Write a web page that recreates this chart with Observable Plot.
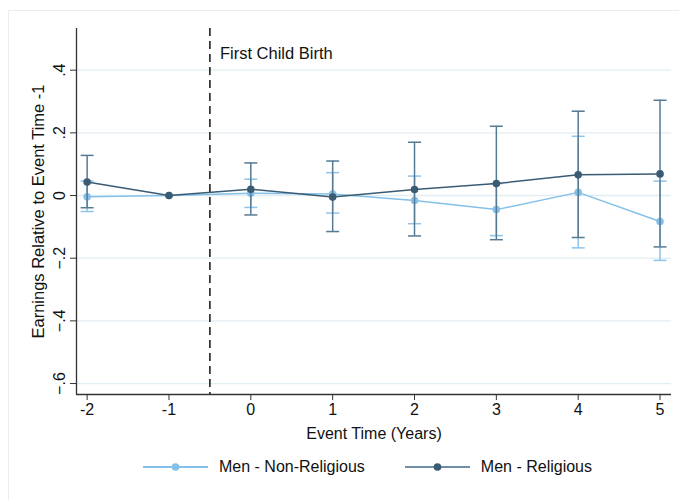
<!DOCTYPE html>
<html>
<head>
<meta charset="utf-8">
<script src="https://cdn.jsdelivr.net/npm/d3@7"></script>
<script src="https://cdn.jsdelivr.net/npm/@observablehq/plot@0.6"></script>
<style>
  body { margin: 0; background: #fff; }
  #wrap { position: relative; width: 679px; height: 500px; overflow: hidden; background: #fff;
          font-family: "Liberation Sans", Arial, Helvetica, sans-serif; }
  #border { position: absolute; left: 8px; top: 10px; width: 720px; height: 540px; border: 1px solid #e7edf0; }
  #chart { position: absolute; left: 0; top: 0; }
  #legend { position: absolute; left: 143px; top: 458px; display: flex; align-items: center; font-size: 16px; color: #111; }
  .item { display: flex; align-items: center; }
  .item svg { display: block; }
</style>
</head>
<body>
<div id="wrap">
  <div id="border"></div>
  <div id="chart"></div>
  <div id="legend"></div>
</div>
<script>
// ---- data ----
const eventTime = [-2, -1, 0, 1, 2, 3, 4, 5];
const nonRelEst = [-0.004, 0, 0.007, 0.005, -0.016, -0.045, 0.010, -0.083];
const nonRelLo  = [-0.051, 0, -0.038, -0.056, -0.090, -0.128, -0.167, -0.207];
const nonRelHi  = [0.046, 0, 0.052, 0.073, 0.062, 0.038, 0.189, 0.046];
const relEst    = [0.043, 0, 0.020, -0.005, 0.019, 0.038, 0.066, 0.069];
const relLo     = [-0.039, 0, -0.062, -0.115, -0.129, -0.141, -0.134, -0.164];
const relHi     = [0.128, 0, 0.104, 0.110, 0.170, 0.221, 0.269, 0.304];
const seriesNames = ["Men - Non-Religious", "Men - Religious"];
const yTicks = [-0.6, -0.4, -0.2, 0, 0.2, 0.4];
const xDomain = [-2.13, 5.14];
const yDomain = [-0.635, 0.533];
const eventLine = [-0.5];
const eventLabel = ["First Child Birth"];

// ---- styles ----
const lightColor = "#84c0e8";
const lightBar = "#8cc4ea";
const darkColor = "#3b5b73";
const darkBar = "#557a94";

const rows = (est, lo, hi) => eventTime.map((t, i) => ({t, est: est[i], lo: lo[i], hi: hi[i]}));
const nonRel = rows(nonRelEst, nonRelLo, nonRelHi);
const rel = rows(relEst, relLo, relHi);
const withCI = d => d.hi !== d.lo;

const cap = { draw(ctx) { ctx.moveTo(-6.5, 0); ctx.lineTo(6.5, 0); } };
const fmtY = d => d === 0 ? "0" : d3.format(".1f")(d).replace("0.", ".");

function series(data, line, bar) {
  return [
    Plot.ruleX(data.filter(withCI), {x: "t", y1: "lo", y2: "hi", stroke: bar, strokeWidth: 1.5}),
    Plot.dot(data.filter(withCI), {x: "t", y: "lo", symbol: cap, stroke: bar, strokeWidth: 1.5, fill: "none"}),
    Plot.dot(data.filter(withCI), {x: "t", y: "hi", symbol: cap, stroke: bar, strokeWidth: 1.5, fill: "none"}),
    Plot.line(data, {x: "t", y: "est", stroke: line, strokeWidth: 1.5}),
    Plot.dot(data, {x: "t", y: "est", r: 3.8, fill: line, stroke: "none"})
  ];
}

const chart = Plot.plot({
  width: 679,
  height: 445,
  marginLeft: 76,
  marginRight: 8,
  marginTop: 28,
  marginBottom: 51,
  style: {fontFamily: "'Liberation Sans', Arial, Helvetica, sans-serif", fontSize: "16px", color: "#111", background: "transparent"},
  x: {domain: xDomain},
  y: {domain: yDomain},
  marks: [
    Plot.gridY(yTicks, {stroke: "#e2edf2", strokeOpacity: 1, strokeWidth: 1.3}),
    Plot.ruleX(eventLine, {stroke: "#111", strokeWidth: 1.5, strokeDasharray: "8,5"}),
    Plot.text(eventLabel, {x: eventLine, frameAnchor: "top", textAnchor: "start", lineAnchor: "middle", dx: 10, dy: 25, fontSize: 16.5, fill: "#111"}),
    ...series(nonRel, lightColor, lightBar),
    ...series(rel, darkColor, darkBar),
    Plot.ruleX([xDomain[0]], {stroke: "#333", strokeWidth: 1.3}),
    Plot.ruleY([yDomain[0]], {stroke: "#333", strokeWidth: 1.3}),
    Plot.axisY({ticks: yTicks, tickSize: 6, stroke: "#333", text: null, label: null}),
    Plot.text(yTicks, {y: d => d, text: fmtY, frameAnchor: "left", rotate: -90, textAnchor: "middle", lineAnchor: "middle", dx: -17, fontSize: 16, fill: "#111"}),
    Plot.axisY({ticks: [], tickSize: 0, label: "Earnings Relative to Event Time -1", labelAnchor: "center", labelArrow: "none", labelOffset: 44, fontSize: 16.5}),
    Plot.axisX({ticks: eventTime, tickSize: 6, tickPadding: 3, stroke: "#333", tickFormat: d => String(d), fontSize: 16,
                label: "Event Time (Years)", labelAnchor: "center", labelArrow: "none", labelOffset: 44})
  ]
});
document.getElementById("chart").appendChild(chart);

// ---- legend ----
const legend = d3.select("#legend");
[[seriesNames[0], lightColor, lightColor], [seriesNames[1], darkColor, "#6f8fa8"]].forEach(([name, dot, line], i) => {
  const item = legend.append("div").attr("class", "item").style("margin-right", i === 0 ? "40px" : "0");
  const s = item.append("svg").attr("width", 65).attr("height", 14);
  s.append("line").attr("x1", 0).attr("x2", 65).attr("y1", 7).attr("y2", 7).attr("stroke", line).attr("stroke-width", 2);
  s.append("circle").attr("cx", 32.5).attr("cy", 7).attr("r", 3.8).attr("fill", dot);
  item.append("span").style("margin-left", "11px").text(name);
});
</script>
</body>
</html>
